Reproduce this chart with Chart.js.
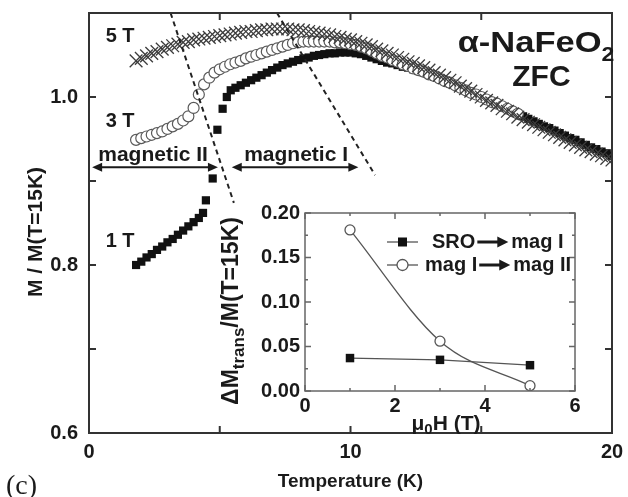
<!DOCTYPE html>
<html>
<head>
<meta charset="utf-8">
<title>alpha-NaFeO2 ZFC magnetization</title>
<script src="https://cdn.jsdelivr.net/npm/chart.js@4.4.1/dist/chart.umd.min.js"></script>
<style>
  body { margin: 0; background: #fff; }
  #wrap { position: relative; width: 628px; height: 497px; }
  #main { position: absolute; left: 0; top: 0; }
  #inset { position: absolute; left: 200px; top: 190px; }
</style>
</head>
<body>
<div id="wrap">
  <canvas id="main" width="628" height="497"></canvas>
  <canvas id="inset" width="400" height="250"></canvas>
</div>
<script>
// temperature grid (K) shared by the 3 T and 5 T sweeps
var tempK = [
  1.8, 2.0, 2.2, 2.4, 2.6, 2.8, 3.0, 3.2, 3.4, 3.6,
  3.8, 4.0, 4.2, 4.4, 4.6, 4.8, 5.0, 5.2, 5.4, 5.6,
  5.8, 6.0, 6.2, 6.4, 6.6, 6.8, 7.0, 7.2, 7.4, 7.6,
  7.8, 8.0, 8.2, 8.4, 8.6, 8.8, 9.0, 9.2, 9.4, 9.6,
  9.8, 10.0, 10.2, 10.4, 10.6, 10.8, 11.0, 11.2, 11.4, 11.6,
  11.8, 12.0, 12.2, 12.4, 12.6, 12.8, 13.0, 13.2, 13.4, 13.6,
  13.8, 14.0, 14.2, 14.4, 14.6, 14.8, 15.0, 15.2, 15.4, 15.6,
  15.8, 16.0, 16.2, 16.4, 16.6, 16.8, 17.0, 17.2, 17.4, 17.6,
  17.8, 18.0, 18.2, 18.4, 18.6, 18.8, 19.0, 19.2, 19.4, 19.6,
  19.8, 20.0
];

// 1 T sweep has its own temperatures (sparser through the jump)
var temp1T = [
  1.8, 2.0, 2.2, 2.4, 2.6, 2.8, 3.0, 3.2, 3.4, 3.6,
  3.8, 4.0, 4.2, 4.36, 4.47, 4.73, 4.91, 5.11, 5.27, 5.42,
  5.6, 5.8, 6.0, 6.2, 6.4, 6.6, 6.8, 7.0, 7.2, 7.4,
  7.6, 7.8, 8.0, 8.2, 8.4, 8.6, 8.8, 9.0, 9.2, 9.4,
  9.6, 9.8, 10.0, 10.2, 10.4, 10.6, 10.8, 11.0, 11.2, 11.4,
  11.6, 11.8, 12.0, 12.2, 12.4, 12.6, 12.8, 13.0, 13.2, 13.4,
  13.6, 13.8, 14.0, 14.2, 14.4, 14.6, 14.8, 15.0, 15.2, 15.4,
  15.6, 15.8, 16.0, 16.2, 16.4, 16.6, 16.8, 17.0, 17.2, 17.4,
  17.6, 17.8, 18.0, 18.2, 18.4, 18.6, 18.8, 19.0, 19.2, 19.4,
  19.6, 19.8, 20.0
];
var mag1T = [
  0.800, 0.804, 0.809, 0.813, 0.818, 0.822, 0.827, 0.831, 0.836, 0.841,
  0.846, 0.851, 0.856, 0.862, 0.877, 0.903, 0.961, 0.986, 1.000, 1.008,
  1.011, 1.014, 1.017, 1.020, 1.023, 1.026, 1.029, 1.032, 1.035, 1.038,
  1.040, 1.042, 1.044, 1.046, 1.047, 1.049, 1.050, 1.051, 1.052, 1.052,
  1.053, 1.053, 1.053, 1.052, 1.051, 1.049, 1.047, 1.045, 1.043, 1.041,
  1.040, 1.038, 1.036, 1.035, 1.033, 1.031, 1.029, 1.027, 1.024, 1.022,
  1.019, 1.016, 1.014, 1.011, 1.008, 1.005, 1.003, 1.000, 0.997, 0.994,
  0.991, 0.989, 0.986, 0.983, 0.980, 0.977, 0.974, 0.971, 0.968, 0.965,
  0.963, 0.960, 0.957, 0.954, 0.951, 0.949, 0.946, 0.943, 0.940, 0.938,
  0.935, 0.933, 0.930
];

// 3 T sweep (stops at 16.4 K)
var mag3T = [
  0.949, 0.951, 0.953, 0.955, 0.957, 0.959, 0.962, 0.965, 0.968, 0.972,
  0.977, 0.987, 1.003, 1.015, 1.023, 1.029, 1.033, 1.036, 1.039, 1.041,
  1.043, 1.046, 1.048, 1.050, 1.052, 1.054, 1.056, 1.058, 1.060, 1.062,
  1.064, 1.065, 1.066, 1.066, 1.066, 1.066, 1.066, 1.066, 1.065, 1.065,
  1.064, 1.063, 1.062, 1.060, 1.058, 1.055, 1.052, 1.049, 1.047, 1.044,
  1.042, 1.039, 1.037, 1.034, 1.032, 1.030, 1.027, 1.025, 1.022, 1.019,
  1.017, 1.014, 1.011, 1.008, 1.005, 1.003, 1.000, 0.997, 0.994, 0.992,
  0.989, 0.986, 0.983, 0.980
];

// 5 T sweep
var mag5T = [
  1.043, 1.046, 1.049, 1.052, 1.054, 1.057, 1.059, 1.061, 1.063, 1.065,
  1.066, 1.068, 1.069, 1.070, 1.071, 1.072, 1.073, 1.074, 1.075, 1.076,
  1.077, 1.078, 1.078, 1.079, 1.080, 1.080, 1.081, 1.081, 1.081, 1.081,
  1.080, 1.080, 1.079, 1.078, 1.077, 1.076, 1.075, 1.074, 1.072, 1.071,
  1.069, 1.068, 1.066, 1.064, 1.062, 1.060, 1.057, 1.055, 1.052, 1.050,
  1.047, 1.045, 1.042, 1.040, 1.037, 1.035, 1.032, 1.029, 1.026, 1.023,
  1.020, 1.017, 1.013, 1.010, 1.007, 1.003, 1.000, 0.996, 0.993, 0.990,
  0.986, 0.983, 0.980, 0.976, 0.973, 0.970, 0.967, 0.964, 0.961, 0.958,
  0.955, 0.952, 0.949, 0.946, 0.943, 0.940, 0.937, 0.935, 0.932, 0.930,
  0.927, 0.925
];

// phase boundaries (dashed), endpoints in T and M/M(15K)
var boundaryLowT = [3.12, 5.54];
var boundaryLowM = [1.1, 0.874];
var boundaryHighT = [7.19, 10.94];
var boundaryHighM = [1.1, 0.907];

// regime arrows: T range of each, and the level they sit at
var magIIRange = [0.12, 4.93];
var magIRange = [5.46, 10.3];
var arrowLevel = 0.9165;

// inset: transition step size vs field
var fieldT = [1, 3, 5];
var sroToMagI = [0.037, 0.035, 0.029];
var magIToMagII = [0.181, 0.056, 0.006];

var FONT = '"Liberation Sans", Arial, sans-serif';
var INK = '#1a1a1a';
Chart.defaults.font.family = FONT;
Chart.defaults.color = INK;

function pairs(xs, ys) {
  return ys.map(function (v, i) { return { x: xs[i], y: v }; });
}

// keep tick-label overhang from moving the plot box; layout padding decides
function noOverhang(s) {
  s.paddingTop = 0; s.paddingBottom = 0;
  s.paddingLeft = 0; s.paddingRight = 0;
}

// box frame with ticks pointing into the plot on all four sides
function drawFrame(chart, color, width, majorLen, minorLen, isMajorX, isMajorY) {
  var ctx = chart.ctx, a = chart.chartArea;
  var sx = chart.scales.x, sy = chart.scales.y;
  ctx.save();
  ctx.strokeStyle = color;
  ctx.lineWidth = width;
  ctx.strokeRect(a.left, a.top, a.right - a.left, a.bottom - a.top);
  ctx.beginPath();
  sx.ticks.forEach(function (t) {
    var px = sx.getPixelForValue(t.value);
    var l = isMajorX(t.value) ? majorLen : minorLen;
    ctx.moveTo(px, a.bottom); ctx.lineTo(px, a.bottom - l);
    ctx.moveTo(px, a.top); ctx.lineTo(px, a.top + l);
  });
  sy.ticks.forEach(function (t) {
    var py = sy.getPixelForValue(t.value);
    var l = isMajorY(t.value) ? majorLen : minorLen;
    ctx.moveTo(a.left, py); ctx.lineTo(a.left + l, py);
    ctx.moveTo(a.right, py); ctx.lineTo(a.right - l, py);
  });
  ctx.stroke();
  ctx.restore();
}

function arrowHead(ctx, x, y, dir, len, half) {
  ctx.beginPath();
  ctx.moveTo(x, y);
  ctx.lineTo(x - dir * len, y - half);
  ctx.lineTo(x - dir * len, y + half);
  ctx.closePath();
  ctx.fill();
}

// draws a run of text pieces; pieces with dy are lowered (subscripts)
function drawRuns(ctx, runs, x, y) {
  runs.forEach(function (r) {
    ctx.font = 'bold ' + r.size + 'px ' + FONT;
    ctx.fillText(r.text, x, y + (r.dy || 0));
    x += ctx.measureText(r.text).width;
  });
  return x;
}
function runsWidth(ctx, runs) {
  var w = 0;
  runs.forEach(function (r) {
    ctx.font = 'bold ' + r.size + 'px ' + FONT;
    w += ctx.measureText(r.text).width;
  });
  return w;
}

var mainDecor = {
  id: 'mainDecor',
  afterDraw: function (chart) {
    var ctx = chart.ctx, sx = chart.scales.x, sy = chart.scales.y;
    drawFrame(chart, '#333', 2, 7, 7,
      function () { return true; }, function () { return true; });

    ctx.save();
    ctx.fillStyle = INK;
    ctx.strokeStyle = INK;

    // regime arrows
    ctx.lineWidth = 2;
    [magIIRange, magIRange].forEach(function (r) {
      var x0 = sx.getPixelForValue(r[0]), x1 = sx.getPixelForValue(r[1]);
      var y = sy.getPixelForValue(arrowLevel);
      ctx.beginPath();
      ctx.moveTo(x0 + 6, y); ctx.lineTo(x1 - 6, y);
      ctx.stroke();
      arrowHead(ctx, x0, y, -1, 10, 4.5);
      arrowHead(ctx, x1, y, 1, 10, 4.5);
    });

    function label(text, t, m, size, align) {
      ctx.font = 'bold ' + size + 'px ' + FONT;
      ctx.textAlign = align || 'center';
      ctx.textBaseline = 'middle';
      ctx.fillText(text, sx.getPixelForValue(t), sy.getPixelForValue(m));
    }
    label('5 T', 1.19, 1.072, 20);
    label('3 T', 1.19, 0.971, 20);
    label('1 T', 1.19, 0.8275, 20);
    label('magnetic II', 2.45, 0.9305, 21);
    label('magnetic I', 7.92, 0.9305, 21);

    // compound name with subscript (set a little wide), then the protocol
    ctx.textAlign = 'left';
    ctx.textBaseline = 'alphabetic';
    var name = [{ text: '\u03b1-NaFeO', size: 30 }, { text: '2', size: 20, dy: 9 }];
    var wide = 1.15;
    var nameRight = sx.getPixelForValue(19.6);
    ctx.save();
    ctx.translate(nameRight - runsWidth(ctx, [name[0]]) * wide, sy.getPixelForValue(1.054));
    ctx.scale(wide, 1);
    drawRuns(ctx, name, 0, 0);
    ctx.restore();
    ctx.font = 'bold 30px ' + FONT;
    ctx.textAlign = 'center';
    ctx.fillText('ZFC', sx.getPixelForValue(17.3), sy.getPixelForValue(1.013));

    // y axis title
    ctx.save();
    ctx.translate(36, 232);
    ctx.rotate(-Math.PI / 2);
    ctx.font = 'bold 21px ' + FONT;
    ctx.textBaseline = 'middle';
    ctx.fillText('M / M(T=15K)', 0, 0);
    ctx.restore();

    // panel letter
    ctx.font = '28px "Liberation Serif", "Times New Roman", serif';
    ctx.textAlign = 'left';
    ctx.textBaseline = 'alphabetic';
    ctx.fillText('(c)', 6, 494);
    ctx.restore();
  }
};

new Chart(document.getElementById('main'), {
  type: 'scatter',
  data: {
    datasets: [
      {
        label: '1 T', data: pairs(temp1T, mag1T), order: 3,
        pointStyle: 'rect', pointRadius: 5.8, pointBorderWidth: 0,
        pointBackgroundColor: '#111', showLine: false
      },
      {
        label: '3 T', data: pairs(tempK, mag3T), order: 2,
        pointStyle: 'circle', pointRadius: 5.5, pointBorderWidth: 1.2,
        pointBorderColor: '#5a5a5a', pointBackgroundColor: '#fff', showLine: false
      },
      {
        label: '5 T', data: pairs(tempK, mag5T), order: 1,
        pointStyle: 'crossRot', pointRadius: 9, pointBorderWidth: 1.3,
        pointBorderColor: '#3c3c3c', showLine: false
      },
      {
        data: pairs(boundaryLowT, boundaryLowM), order: 0, showLine: true,
        borderColor: '#222', borderWidth: 2, borderDash: [5, 4], pointRadius: 0
      },
      {
        data: pairs(boundaryHighT, boundaryHighM), order: 0, showLine: true,
        borderColor: '#222', borderWidth: 2, borderDash: [5, 4], pointRadius: 0
      }
    ]
  },
  options: {
    responsive: false,
    animation: false,
    events: [],
    layout: { padding: { top: 13, right: 16, left: 0, bottom: 0 } },
    plugins: { legend: { display: false }, tooltip: { enabled: false } },
    scales: {
      x: {
        type: 'linear', min: 0, max: 20,
        grid: { display: false, drawTicks: false },
        border: { display: false },
        ticks: {
          stepSize: 5, autoSkip: false, maxRotation: 0, padding: 7,
          font: { size: 20, weight: 'bold' }, color: INK,
          callback: function (v) { return v % 10 === 0 ? String(v) : ''; }
        },
        title: {
          display: true, text: 'Temperature (K)', color: INK,
          font: { size: 19, weight: 'bold' }, padding: { top: 0, bottom: 4 }
        },
        afterFit: function (s) { s.height = 64; noOverhang(s); }
      },
      y: {
        min: 0.6, max: 1.1,
        grid: { display: false, drawTicks: false },
        border: { display: false },
        ticks: {
          stepSize: 0.1, autoSkip: false, padding: 11,
          font: { size: 20, weight: 'bold' }, color: INK,
          callback: function (v) {
            var k = Math.round(v * 10);
            return k % 2 === 0 ? (k / 10).toFixed(1) : '';
          }
        },
        afterFit: function (s) { s.width = 89; noOverhang(s); }
      }
    }
  },
  plugins: [mainDecor]
});

function legendArrow(ctx, x, y, len) {
  ctx.lineWidth = 3;
  ctx.beginPath();
  ctx.moveTo(x, y); ctx.lineTo(x + len - 8, y);
  ctx.stroke();
  arrowHead(ctx, x + len, y, 1, 11, 5.5);
}

var insetDecor = {
  id: 'insetDecor',
  afterDraw: function (chart) {
    var ctx = chart.ctx, a = chart.chartArea;
    drawFrame(chart, '#666', 1.5, 6, 3,
      function (v) { return Math.round(v) % 2 === 0; },
      function (v) { return Math.round(v * 40) % 2 === 0; });

    ctx.save();
    ctx.fillStyle = INK;
    ctx.strokeStyle = INK;
    ctx.textBaseline = 'middle';
    ctx.textAlign = 'left';

    // legend: line + marker sample, then "from -> to"
    var rows = [
      { from: 'SRO', to: 'mag I', y: a.top + 29, square: true },
      { from: 'mag I', to: 'mag II', y: a.top + 52, square: false }
    ];
    rows.forEach(function (r) {
      var sx0 = a.left + 82, sx1 = a.left + 113, cx = (sx0 + sx1) / 2;
      ctx.strokeStyle = '#555';
      ctx.lineWidth = 1.3;
      ctx.beginPath(); ctx.moveTo(sx0, r.y); ctx.lineTo(sx1, r.y); ctx.stroke();
      if (r.square) {
        ctx.fillStyle = '#111';
        ctx.fillRect(cx - 4.5, r.y - 4.5, 9, 9);
      } else {
        ctx.fillStyle = '#fff';
        ctx.beginPath(); ctx.arc(cx, r.y, 5.5, 0, 2 * Math.PI); ctx.fill(); ctx.stroke();
      }
      ctx.fillStyle = INK;
      ctx.strokeStyle = INK;
      var tx = r.square ? a.left + 127 : a.left + 120;
      tx = drawRuns(ctx, [{ text: r.from, size: 20 }], tx, r.y);
      legendArrow(ctx, tx + 2, r.y, 31);
      drawRuns(ctx, [{ text: r.to, size: 20 }], tx + 36, r.y);
    });

    // axis titles with subscripts
    ctx.textBaseline = 'middle';
    var yTitle = [
      { text: '\u0394M', size: 23 },
      { text: 'trans', size: 17, dy: 7 },
      { text: '/M(T=15K)', size: 23 }
    ];
    ctx.save();
    ctx.translate(32, (a.top + a.bottom) / 2 + 9);
    ctx.rotate(-Math.PI / 2);
    drawRuns(ctx, yTitle, -runsWidth(ctx, yTitle) / 2, 0);
    ctx.restore();

    var xTitle = [
      { text: '\u03bc', size: 21 },
      { text: '0', size: 15, dy: 6 },
      { text: 'H (T)', size: 21 }
    ];
    drawRuns(ctx, xTitle, (a.left + a.right) / 2 + 6 - runsWidth(ctx, xTitle) / 2, a.bottom + 33);
    ctx.restore();
  }
};

new Chart(document.getElementById('inset'), {
  type: 'scatter',
  data: {
    datasets: [
      {
        label: 'SRO \u2192 mag I', data: pairs(fieldT, sroToMagI), showLine: true,
        borderColor: '#555', borderWidth: 1.3,
        pointStyle: 'rect', pointRadius: 6, pointBorderWidth: 0, pointBackgroundColor: '#111'
      },
      {
        label: 'mag I \u2192 mag II', data: pairs(fieldT, magIToMagII), showLine: true,
        cubicInterpolationMode: 'monotone',
        borderColor: '#555', borderWidth: 1.3,
        pointStyle: 'circle', pointRadius: 5, pointBorderWidth: 1.3,
        pointBorderColor: '#555', pointBackgroundColor: '#fff'
      }
    ]
  },
  options: {
    responsive: false,
    animation: false,
    events: [],
    layout: { padding: { top: 23, right: 25, left: 0, bottom: 0 } },
    plugins: { legend: { display: false }, tooltip: { enabled: false } },
    scales: {
      x: {
        type: 'linear', min: 0, max: 6,
        grid: { display: false, drawTicks: false },
        border: { display: false },
        ticks: {
          stepSize: 1, autoSkip: false, maxRotation: 0, padding: 3,
          font: { size: 20, weight: 'bold' }, color: INK,
          callback: function (v) { return Math.round(v) % 2 === 0 ? String(v) : ''; }
        },
        afterFit: function (s) { s.height = 49; noOverhang(s); }
      },
      y: {
        min: 0, max: 0.2,
        grid: { display: false, drawTicks: false },
        border: { display: false },
        ticks: {
          stepSize: 0.025, autoSkip: false, padding: 5,
          font: { size: 20, weight: 'bold' }, color: INK,
          callback: function (v) {
            var k = Math.round(v * 40);
            return k % 2 === 0 ? (k / 40).toFixed(2) : '';
          }
        },
        afterFit: function (s) { s.width = 105; noOverhang(s); }
      }
    }
  },
  plugins: [insetDecor]
});
</script>
</body>
</html>
